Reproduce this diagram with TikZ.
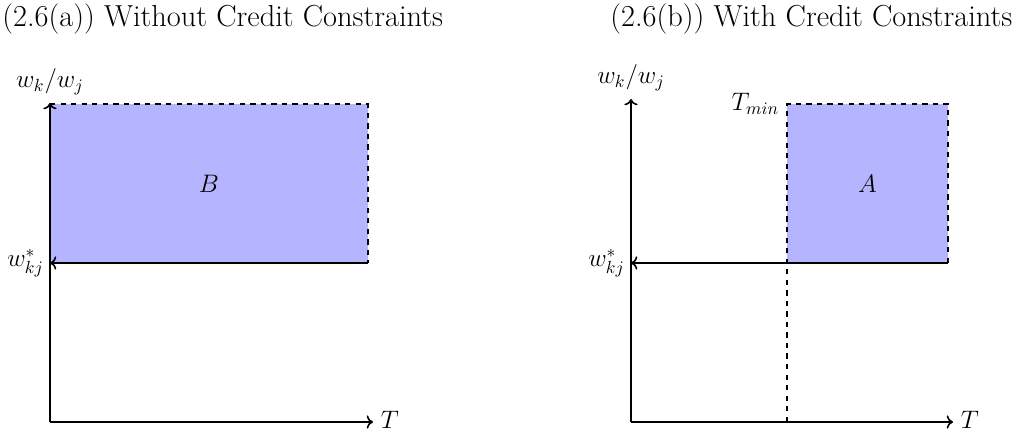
\documentclass[tikz,border=0pt]{standalone}
\usepackage{amsmath}
\usetikzlibrary{positioning, arrows.meta, calc}

\begin{document}
\begin{tikzpicture}[
  x=0.02cm, y=-0.02cm,
  axis/.style={->, line width=0.9pt},
  region/.style={fill=blue!29},
  bound/.style={dashed, line width=0.9pt},
  title/.style={font=\fontsize{17.3}{20}\selectfont, anchor=west, inner sep=0pt},
  lab/.style={font=\fontsize{14.5}{17}\selectfont}
]
\useasboundingbox (0,0) rectangle (1034,432);

% Titles
\node[title] (titleA) at (2,19) {(2.6(a)) Without Credit Constraints};
\node[title] (titleB) at (610,19) {(2.6(b)) With Credit Constraints};

% Left panel: corners
\coordinate (oA) at (50,422);
\coordinate (xA) at (373,422);
\coordinate (yA) at (50,103);
\coordinate (tlA) at (50,104);
\coordinate (trA) at (368,104);
\coordinate (brA) at (368,263);
\coordinate (wA) at (50,263);

% Region B
\fill[region] (wA) rectangle (trA);
\node[lab] (B) at ($(wA)!0.5!(trA)$) {$B$};

% Edges
\draw[bound] (tlA) -- (trA) -- (brA);
\draw[axis] (brA) -- (wA);
\draw[axis] (oA) -- (xA);
\draw[axis] (oA) -- (yA);

% Labels
\node[lab, above=1pt of yA] (ratioA) {$w_k/w_j$};
\node[lab, left=0pt of wA] (wstarA) {$w^*_{kj}$};
\node[lab, right=1pt of xA, yshift=1.2pt, inner ysep=1pt] (TA) {$T$};

% Right panel: corners
\coordinate (oB) at (631,422);
\coordinate (xB) at (953,422);
\coordinate (yB) at (631,99);
\coordinate (tmB) at (787,422);
\coordinate (tlB) at (787,104);
\coordinate (trB) at (948,104);
\coordinate (brB) at (948,263);
\coordinate (wB) at (631,263);

% Region A
\fill[region] (787,263) rectangle (trB);
\node[lab] (A) at ($(787,263)!0.5!(trB)$) {$A$};

% Edges
\draw[bound] (tmB) -- (tlB) -- (trB) -- (brB);
\draw[axis] (brB) -- (wB);
\draw[axis] (oB) -- (xB);
\draw[axis] (oB) -- (yB);

% Labels
\node[lab, above=1pt of yB] (ratioB) {$w_k/w_j$};
\node[lab, left=0pt of wB] (wstarB) {$w^*_{kj}$};
\node[lab, right=1pt of xB, yshift=1.2pt, inner ysep=1pt] (TB) {$T$};
\node[lab, left=1pt of tlB] (Tmin) {$T_{min}$};

\end{tikzpicture}
\end{document}
